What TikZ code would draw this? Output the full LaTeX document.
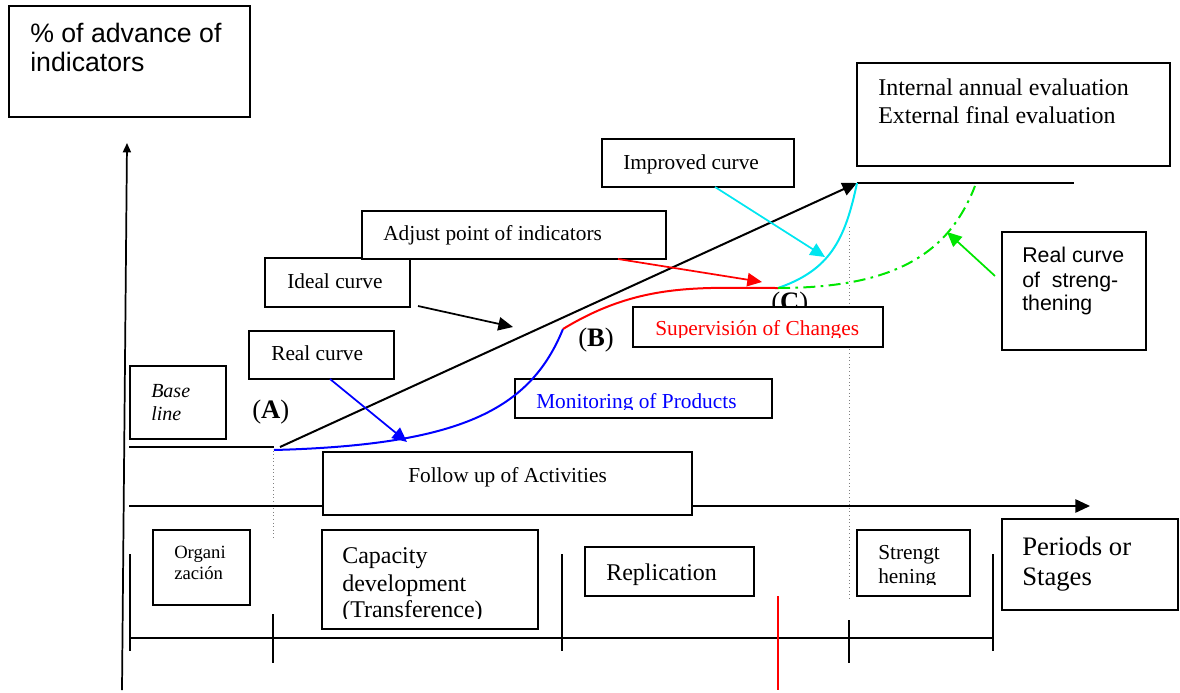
\documentclass[tikz,border=0pt]{standalone}
\usepackage{fontspec}
\setmainfont{Liberation Serif}
\newfontfamily\arialf{Liberation Sans}
\usetikzlibrary{arrows.meta,fit}
\definecolor{brcyan}{RGB}{0,230,240}
\definecolor{brgreen}{RGB}{0,230,0}
\tikzset{
  box/.style={draw, line width=1.3pt, fill=white, inner sep=0pt},
  lbl/.style={anchor=base west, inner sep=0pt},
  fa/.style={font=\fontsize{14}{17}\selectfont},
  fb/.style={font=\fontsize{15}{18}\selectfont\itshape},
  fc/.style={font=\fontsize{16}{19}\selectfont},
  fd/.style={font=\fontsize{18}{21}\selectfont},
  fe/.style={font=\fontsize{20}{24}\selectfont},
  sfa/.style={font=\arialf\fontsize{16}{19}\selectfont},
  sfb/.style={font=\arialf\fontsize{20}{24}\selectfont},
  axisline/.style={line width=1.3pt},
  curveline/.style={line width=1.5pt},
  pointer/.style={line width=1.3pt, -{Triangle[length=11pt,width=10pt]}},
  dots/.style={gray, dotted, line width=0.7pt}
}
\begin{document}
\begin{tikzpicture}[x=0.75pt,y=-0.75pt]
\useasboundingbox (0,0) rectangle (1180,692);
% named points
\coordinate (yb) at (122,690);
\coordinate (yt) at (127,143);
\coordinate (xb) at (129,506);
\coordinate (xt) at (1090,506);
\coordinate (bl1) at (129,447);
\coordinate (bl2) at (274,447);
\coordinate (tl1) at (857,183);
\coordinate (tl2) at (1074,183);
\coordinate (d1a) at (273,447);
\coordinate (d1b) at (273,538);
\coordinate (d2a) at (849,227);
\coordinate (d2b) at (849,599);
\coordinate (tm1) at (130,638);
\coordinate (tm2) at (993,638);
\coordinate (rv1) at (778,596);
\coordinate (rv2) at (778,690);
\coordinate (A0) at (274,450);
\coordinate (Aid) at (280,447);
\coordinate (Bpt) at (563,329);
\coordinate (Cpt) at (778,288);
\coordinate (Top) at (857,183);
\coordinate (Gend) at (975,186);
\coordinate (rcS) at (330,379);
\coordinate (rcT) at (407,442);
\coordinate (icS) at (418,306);
\coordinate (icT) at (513,327);
\coordinate (apS) at (618,259);
\coordinate (apT) at (762,282);
\coordinate (imS) at (715,187);
\coordinate (imT) at (825,257);
\coordinate (gS) at (995,276);
\coordinate (gT) at (947,232);

% dotted guide lines
\draw[dots] (d1a) -- (d1b);
\draw[dots] (d2a) -- (d2b);
% axes
\draw[axisline, -{Triangle[length=7pt,width=6pt]}] (yb) -- (yt);
\draw[axisline] (bl1) -- (bl2);
\draw[axisline, -{Triangle[length=11pt,width=10pt]}] (xb) -- (xt);
\draw[axisline] (tl1) -- (tl2);
% time line
\draw[axisline] (tm1) -- (tm2);
\draw[axisline] (130,554) -- (130,651);
\draw[axisline] (273,614) -- (273,663);
\draw[axisline] (562,554) -- (562,651);
\draw[axisline] (849,620) -- (849,663);
\draw[axisline] (993,554) -- (993,651);
\draw[red, line width=1.1pt] (rv1) -- (rv2);

% point labels
\node[lbl,fe] (labA) at (252,418) {(\textbf{A})};
\node[lbl,fe] (labB) at (578,346) {(\textbf{B})};
\node[lbl,fe] (labC) at (771,310) {(\textbf{C})};

% boxes
\node[box, fit={(9,6)(250,117)}] (ybox) {};
\node[lbl,sfb] (y1) at (30,43) {\% of advance of};
\node[lbl,sfb] (y2) at (30,72) {indicators};

\node[box, fit={(857,63)(1170,166)}] (evbox) {};
\node[lbl,fd] (ev1) at (878,95) {Internal annual evaluation};
\node[lbl,fd] (ev2) at (878,123) {External final evaluation};

\node[box, fit={(602,139)(794,187)}] (imbox) {};
\node[lbl,fc] (imt) at (623,169) {Improved curve};

\node[box, fit={(265,258)(410,307)}] (idbox) {};
\node[lbl,fc] (idt) at (287,288) {Ideal curve};

\node[box, fit={(362,211)(666,259)}] (apbox) {};
\node[lbl,fc] (apt) at (383,240) {Adjust point of indicators};

\node[box, fit={(249,331)(394,379)}] (rcbox) {};
\node[lbl,fc] (rct) at (271,360) {Real curve};

\node[box, fit={(130,366)(226,439)}] (blbox) {};
\node[lbl,fb] (bl1t) at (151,397) {Base};
\node[lbl,fb] (bl2t) at (151,420) {line};

\node[box, fit={(633,307)(883,347)}] (supbox) {};
\begin{scope}
\clip (633,307) rectangle (883,337);
\node[lbl,fc,red] (supt) at (655,335) {Supervisión of Changes};
\end{scope}

\node[box, fit={(515,379)(772,418)}] (monbox) {};
\begin{scope}
\clip (515,379) rectangle (772,409);
\node[lbl,fc,blue] (mont) at (536,408) {Monitoring of Products};
\end{scope}

\node[box, fit={(323,452)(692,515)}] (fobox) {};
\node[lbl,fc] (fot) at (408,482) {Follow up of Activities};

\node[box, fit={(1002,232)(1146,350)}] (rsbox) {};
\node[lbl,sfa] (rs1) at (1022,262) {Real curve};
\node[lbl,sfa] (rs2) at (1022,287) {of~ streng-};
\node[lbl,sfa] (rs3) at (1022,310) {thening};

\node[box, fit={(153,530)(250,605)}] (orbox) {};
\node[lbl,fa] (or1) at (174,558) {Organi};
\node[lbl,fa] (or2) at (174,579) {zación};

\node[box, fit={(322,530)(538,629)}] (cabox) {};
\begin{scope}
\clip (322,530) rectangle (538,618);
\node[lbl,fd] (ca1) at (342,563) {Capacity};
\node[lbl,fd] (ca2) at (342,591) {development};
\node[lbl,fd] (ca3) at (342,617) {(Transference)};
\end{scope}

\node[box, fit={(585,547)(754,596)}] (rebox) {};
\node[lbl,fd] (ret) at (606,580) {Replication};

\node[box, fit={(857,530)(970,596)}] (stbox) {};
\begin{scope}
\clip (857,530) rectangle (970,584);
\node[lbl,fc] (st1) at (878,559) {Strengt};
\node[lbl,fc] (st2) at (878,583) {hening};
\end{scope}

\node[box, fit={(1002,519)(1178,610)}] (pebox) {};
\node[lbl,fe] (pe1) at (1022,555) {Periods or};
\node[lbl,fe] (pe2) at (1022,585) {Stages};

% curves
\draw[curveline, -{Triangle[length=11pt,width=10pt]}] (Aid) -- (Top);
\draw[curveline, blue] (A0) .. controls (460,445) and (530,410) .. (Bpt);
\draw[curveline, red] (Bpt) .. controls (640,282) and (700,288) .. (Cpt);
\draw[curveline, brcyan] (Cpt) .. controls (830,270) and (845,240) .. (Top);
\draw[curveline, brgreen, dash pattern=on 9pt off 4pt on 2pt off 4pt] (Cpt) .. controls (900,288) and (950,250) .. (Gend);

% pointers
\draw[pointer, blue] (rcS) -- (rcT);
\draw[pointer] (icS) -- (icT);
\draw[pointer, red] (apS) -- (apT);
\draw[pointer, brcyan] (imS) -- (imT);
\draw[pointer, brgreen] (gS) -- (gT);
\end{tikzpicture}
\end{document}
